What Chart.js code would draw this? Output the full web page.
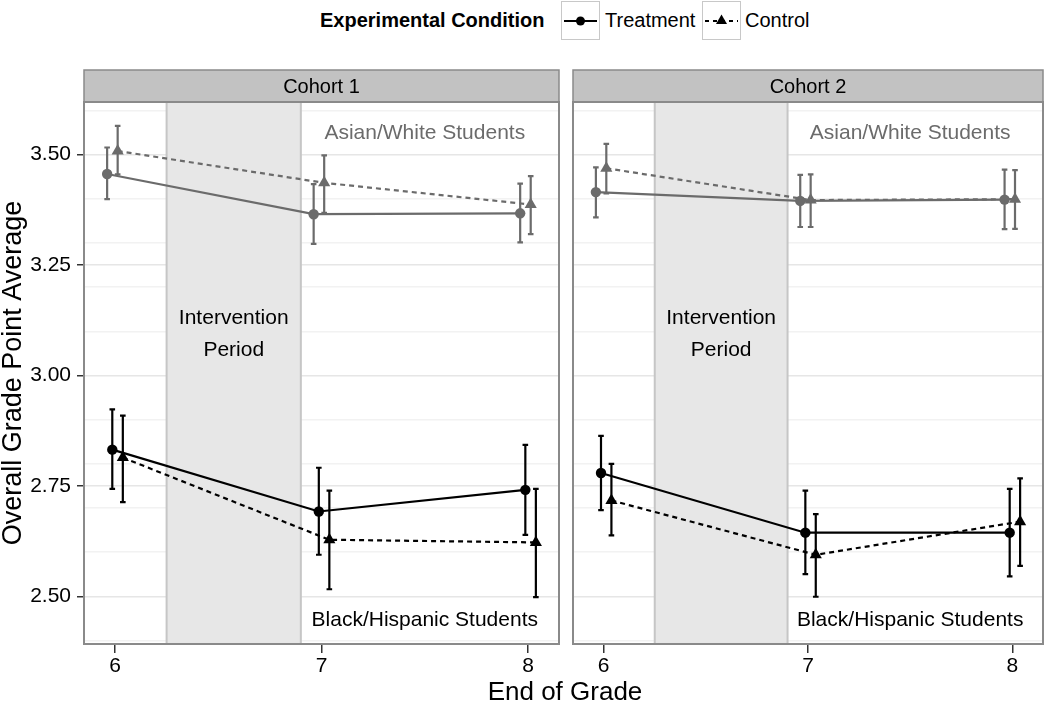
<!DOCTYPE html>
<html>
<head>
<meta charset="utf-8">
<title>GPA by cohort</title>
<script src="https://cdn.jsdelivr.net/npm/chart.js@4.4.1/dist/chart.umd.min.js"></script>
<style>
  body { margin: 0; background: #fff; width: 1050px; height: 704px; position: relative; overflow: hidden;
         font-family: "Liberation Sans", Arial, sans-serif; }
  #c1 { position: absolute; left: 0; top: 0; }
  #c2 { position: absolute; left: 566px; top: 0; }
  .lg { position: absolute; font-size: 20px; line-height: 24px; top: 8px; color: #000; white-space: nowrap; }
  .key { position: absolute; top: 1px; }
  #xtitle { position: absolute; left: 0; width: 1130px; top: 676px; text-align: center; font-size: 26px; line-height: 30px; }
</style>
</head>
<body>
<div class="lg" style="left:320px;font-weight:bold">Experimental Condition</div>
<svg class="key" style="left:561px" width="40" height="40">
  <rect x="0.5" y="0.5" width="38" height="38" fill="#fff" stroke="#c8c8c8"/>
  <line x1="3" y1="20" x2="36" y2="20" stroke="#000" stroke-width="2"/>
  <circle cx="19.5" cy="20" r="4.5" fill="#000"/>
</svg>
<div class="lg" style="left:605px">Treatment</div>
<svg class="key" style="left:702px" width="40" height="40">
  <rect x="0.5" y="0.5" width="38" height="38" fill="#fff" stroke="#c8c8c8"/>
  <line x1="3" y1="20" x2="36" y2="20" stroke="#000" stroke-width="2" stroke-dasharray="4,4"/>
  <polygon points="19.5,13.5 25,23 14,23" fill="#000"/>
</svg>
<div class="lg" style="left:745px">Control</div>

<canvas id="c1" width="566" height="704"></canvas>
<canvas id="c2" width="484" height="704"></canvas>
<div id="xtitle">End of Grade</div>

<script>
// grades on the x axis
const grades = [6, 7, 8];
// small horizontal dodge so the four series don't overlap
const dodge = { awTreat: -0.038, bhTreat: -0.013, awCtrl: 0.013, bhCtrl: 0.038 };

// Cohort 1 - means and error bar ends
const c1AWTreat = [3.456, 3.365, 3.367];
const c1AWTreatLo = [3.399, 3.298, 3.301];
const c1AWTreatHi = [3.516, 3.433, 3.434];
const c1AWCtrl = [3.508, 3.436, 3.387];
const c1AWCtrlLo = [3.455, 3.368, 3.320];
const c1AWCtrlHi = [3.565, 3.498, 3.451];
const c1BHTreat = [2.832, 2.692, 2.741];
const c1BHTreatLo = [2.743, 2.594, 2.639];
const c1BHTreatHi = [2.923, 2.791, 2.843];
const c1BHCtrl = [2.814, 2.628, 2.622];
const c1BHCtrlLo = [2.713, 2.516, 2.498];
const c1BHCtrlHi = [2.909, 2.739, 2.743];

// Cohort 2
const c2AWTreat = [3.415, 3.395, 3.398];
const c2AWTreatLo = [3.358, 3.336, 3.331];
const c2AWTreatHi = [3.471, 3.454, 3.466];
const c2AWCtrl = [3.469, 3.397, 3.399];
const c2AWCtrlLo = [3.412, 3.336, 3.332];
const c2AWCtrlHi = [3.524, 3.455, 3.465];
const c2BHTreat = [2.779, 2.644, 2.644];
const c2BHTreatLo = [2.695, 2.550, 2.545];
const c2BHTreatHi = [2.863, 2.739, 2.743];
const c2BHCtrl = [2.717, 2.594, 2.669];
const c2BHCtrlLo = [2.638, 2.499, 2.569];
const c2BHCtrlHi = [2.800, 2.686, 2.767];

// y ticks: labelled ones and the faint in-between grid lines
const yMajor = [2.5, 2.75, 3.0, 3.25, 3.5];
const yMinor = [2.4, 2.6, 2.7, 2.8, 2.9, 3.1, 3.2, 3.3, 3.4, 3.6];
const interventionStart = 6.25;
const interventionEnd = 6.9;

const GREY = '#6b6b6b';
const FONT = '"Liberation Sans", Arial, sans-serif';

function isMajor(v) {
  return yMajor.some(m => Math.abs(m - v) < 1e-6);
}

function series(means, lo, hi, off, color, dashed, triangle) {
  return {
    data: grades.map((g, i) => ({ x: g + off, y: means[i] })),
    errLo: lo,
    errHi: hi,
    borderColor: color,
    backgroundColor: color,
    borderWidth: 2.2,
    borderDash: dashed ? [5, 4] : [],
    pointStyle: triangle ? 'triangle' : 'circle',
    pointRadius: triangle ? 7 : 5.2,
    pointBorderWidth: 0,
    pointBackgroundColor: color,
    tension: 0
  };
}

const panelPlugin = {
  id: 'panel',
  beforeDraw(chart, args, opts) {
    const { ctx, chartArea: a } = chart;
    ctx.save();
    ctx.fillStyle = '#c2c2c2';
    ctx.fillRect(a.left, 70, a.right - a.left, a.top - 70);
    ctx.strokeStyle = '#8a8a8a';
    ctx.lineWidth = 1.5;
    ctx.strokeRect(a.left, 70, a.right - a.left, a.top - 70);
    ctx.fillStyle = '#000';
    ctx.font = '20px ' + FONT;
    ctx.textAlign = 'center';
    ctx.textBaseline = 'middle';
    ctx.fillText(opts.label, (a.left + a.right) / 2, 87);
    ctx.restore();
  },
  beforeDatasetsDraw(chart) {
    const { ctx, chartArea: a, scales: { x, y } } = chart;
    ctx.save();
    // intervention period band
    const x0 = x.getPixelForValue(interventionStart);
    const x1 = x.getPixelForValue(interventionEnd);
    ctx.fillStyle = '#e7e7e7';
    ctx.fillRect(x0, a.top, x1 - x0, a.bottom - a.top);
    ctx.strokeStyle = '#c6c6c6';
    ctx.lineWidth = 2;
    ctx.beginPath();
    ctx.moveTo(x0, a.top); ctx.lineTo(x0, a.bottom);
    ctx.moveTo(x1, a.top); ctx.lineTo(x1, a.bottom);
    ctx.stroke();
    // error bars
    chart.data.datasets.forEach(ds => {
      ds.data.forEach((p, i) => {
        const px = x.getPixelForValue(p.x);
        const yt = y.getPixelForValue(ds.errHi[i]);
        const yb = y.getPixelForValue(ds.errLo[i]);
        ctx.strokeStyle = ds.borderColor;
        ctx.lineWidth = 2.2;
        ctx.beginPath();
        ctx.moveTo(px, yt); ctx.lineTo(px, yb);
        ctx.moveTo(px - 2.8, yt); ctx.lineTo(px + 2.8, yt);
        ctx.moveTo(px - 2.8, yb); ctx.lineTo(px + 2.8, yb);
        ctx.stroke();
      });
    });
    ctx.restore();
  },
  afterDatasetsDraw(chart) {
    const { ctx, scales: { x, y } } = chart;
    ctx.save();
    ctx.font = '21px ' + FONT;
    ctx.textAlign = 'center';
    ctx.textBaseline = 'middle';
    ctx.fillStyle = GREY;
    ctx.fillText('Asian/White Students', x.getPixelForValue(7.5), y.getPixelForValue(3.549));
    ctx.fillStyle = '#000';
    ctx.fillText('Black/Hispanic Students', x.getPixelForValue(7.5), y.getPixelForValue(2.445));
    const mid = x.getPixelForValue((interventionStart + interventionEnd) / 2);
    ctx.fillText('Intervention', mid, y.getPixelForValue(3.129));
    ctx.fillText('Period', mid, y.getPixelForValue(3.056));
    ctx.restore();
  },
  afterDraw(chart) {
    const { ctx, chartArea: a } = chart;
    ctx.save();
    ctx.strokeStyle = '#8a8a8a';
    ctx.lineWidth = 2;
    ctx.strokeRect(a.left, a.top, a.right - a.left, a.bottom - a.top);
    ctx.restore();
  }
};

function makePanel(canvasId, label, showY, datasets) {
  return new Chart(document.getElementById(canvasId), {
    type: 'line',
    data: { datasets: datasets },
    plugins: [panelPlugin],
    options: {
      responsive: false,
      animation: false,
      layout: { padding: { top: 102, right: showY ? 5 : 4, left: 0, bottom: 0 } },
      plugins: {
        legend: { display: false },
        tooltip: { enabled: false },
        panel: { label: label }
      },
      scales: {
        x: {
          type: 'linear',
          min: 5.85,
          max: 8.15,
          afterBuildTicks: s => { s.ticks = grades.map(v => ({ value: v })); },
          afterFit: s => { s.height = 60; },
          border: { display: false },
          grid: { drawOnChartArea: false, drawTicks: true, tickLength: 9, tickColor: '#333', lineWidth: 1.5 },
          ticks: { color: '#000', font: { size: 21, family: FONT }, padding: 1, autoSkip: false, maxRotation: 0 }
        },
        y: {
          min: 2.392,
          max: 3.619,
          afterBuildTicks: s => {
            s.ticks = yMajor.concat(yMinor).sort((a, b) => a - b).map(v => ({ value: v }));
          },
          afterFit: s => { s.width = showY ? 84 : 4; },
          border: { display: false },
          grid: {
            color: c => isMajor(c.tick.value) ? '#e6e6e6' : '#f2f2f2',
            lineWidth: 1.5,
            drawTicks: showY,
            tickLength: 7,
            tickColor: c => isMajor(c.tick.value) ? '#333' : 'rgba(0,0,0,0)'
          },
          ticks: {
            display: showY,
            autoSkip: false,
            color: '#000',
            padding: 6,
            font: { size: 21, family: FONT },
            callback: v => isMajor(v) ? v.toFixed(2) : ''
          },
          title: {
            display: showY,
            text: 'Overall Grade Point Average',
            color: '#000',
            padding: { top: 0, bottom: 0 },
            font: { size: 27, family: FONT, lineHeight: 1 }
          }
        }
      }
    }
  });
}

makePanel('c1', 'Cohort 1', true, [
  series(c1AWTreat, c1AWTreatLo, c1AWTreatHi, dodge.awTreat, GREY, false, false),
  series(c1AWCtrl, c1AWCtrlLo, c1AWCtrlHi, dodge.awCtrl, GREY, true, true),
  series(c1BHTreat, c1BHTreatLo, c1BHTreatHi, dodge.bhTreat, '#000', false, false),
  series(c1BHCtrl, c1BHCtrlLo, c1BHCtrlHi, dodge.bhCtrl, '#000', true, true)
]);

makePanel('c2', 'Cohort 2', false, [
  series(c2AWTreat, c2AWTreatLo, c2AWTreatHi, dodge.awTreat, GREY, false, false),
  series(c2AWCtrl, c2AWCtrlLo, c2AWCtrlHi, dodge.awCtrl, GREY, true, true),
  series(c2BHTreat, c2BHTreatLo, c2BHTreatHi, dodge.bhTreat, '#000', false, false),
  series(c2BHCtrl, c2BHCtrlLo, c2BHCtrlHi, dodge.bhCtrl, '#000', true, true)
]);
</script>
</body>
</html>
